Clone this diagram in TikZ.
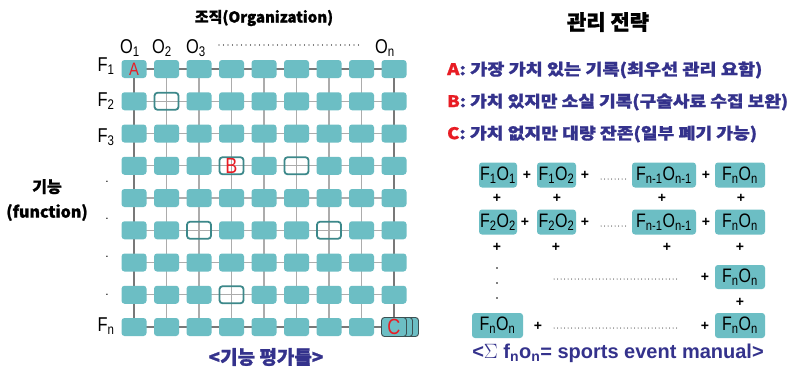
\documentclass[tikz,border=0pt]{standalone}
\usepackage{fontspec}
\setmainfont{Liberation Sans}
\newfontfamily\narrow[FakeStretch=0.82]{Liberation Sans}
\newfontfamily\kr{Noto Sans CJK KR}
\definecolor{tealbox}{RGB}{108,190,196}
\definecolor{tealline}{RGB}{60,136,138}
\definecolor{navy}{RGB}{52,50,140}
\definecolor{redA}{RGB}{232,28,36}
\definecolor{gridlt}{RGB}{172,172,172}
\definecolor{griddk}{RGB}{120,120,120}
\definecolor{cedge}{RGB}{60,80,82}
\expandafter\def\csname skip@2-2\endcsname{}
\expandafter\def\csname skip@4-4\endcsname{}
\expandafter\def\csname skip@6-4\endcsname{}
\expandafter\def\csname skip@3-6\endcsname{}
\expandafter\def\csname skip@7-6\endcsname{}
\expandafter\def\csname skip@4-8\endcsname{}
\expandafter\def\csname skip@9-9\endcsname{}
\tikzset{
  cell/.style={fill=tealbox, rounded corners=3pt, minimum width=25pt, minimum height=18pt, inner sep=0pt},
  hollow/.style={draw=tealline, line width=1.8pt, rounded corners=3pt, minimum width=24pt, minimum height=17pt, inner sep=0pt},
  cstack/.style={fill=tealbox, draw=cedge, line width=0.9pt, rounded corners=3pt, minimum width=25pt, minimum height=19pt, inner sep=0pt},
  fobox/.style={fill=tealbox, rounded corners=3pt, minimum height=25pt, inner sep=0pt, font=\narrow\fontsize{19.5}{19.5}\selectfont},
  lbl/.style={font=\narrow\fontsize{20}{20}\selectfont, inner sep=0pt},
  plus/.style={font=\bfseries\fontsize{14}{14}\selectfont, inner sep=0pt},
  dotline/.style={line width=1.2pt, line cap=round, dash pattern=on 0pt off 4.5pt},
  gl/.style={gridlt, line width=1.2pt},
  gd/.style={griddk, line width=1.9pt},
  ttl/.style={font=\kr\bfseries\addfontfeature{FakeBold=1.2}\fontsize{15}{15}\selectfont, inner sep=0pt},
  strat/.style={font=\kr\bfseries\addfontfeature{FakeBold=1.2}\fontsize{16}{16}\selectfont, text=navy, anchor=west, inner sep=0pt},
}
\begin{document}
\begin{tikzpicture}[x=1pt,y=-1pt]
\useasboundingbox[fill=white] (0,0) rectangle (793,372);
% grid coordinates
\foreach \i in {1,...,9}{\foreach \j in {1,...,9}{
  \coordinate (p-\i-\j) at ({134+32.5*(\i-1)},{69+32.25*(\j-1)});
}}
% grid lines
\foreach \j in {2,...,8}{\draw[gl] (p-1-\j) -- (p-9-\j);}
\foreach \i in {2,...,8}{\draw[gl] (p-\i-1) -- (p-\i-9);}
\draw[gd] (p-1-1) -- (p-9-1);
\draw[gd] (p-1-9) -- (p-9-9);
\draw[gd] (p-1-1) -- (p-1-9);
\draw[gd] (p-9-1) -- (p-9-9);
% cells
\foreach \i in {1,...,9}{\foreach \j in {1,...,9}{
  \ifcsname skip@\i-\j\endcsname\else
  \node[cell] (c-\i-\j) at (p-\i-\j) {};
  \fi
}}
\node[lbl, text=redA, font=\narrow\fontsize{18}{18}\selectfont] (ta) at (p-1-1) {A};
\node[hollow] (c-2-2) at (p-2-2) {};
\node[hollow, text=redA, font=\narrow\fontsize{22}{22}\selectfont] (c-4-4) at (p-4-4) {B};
\node[hollow] (c-6-4) at (p-6-4) {};
\node[hollow] (c-3-6) at (p-3-6) {};
\node[hollow] (c-7-6) at (p-7-6) {};
\node[hollow] (c-4-8) at (p-4-8) {};
\node[cstack, xshift=12pt] (cs2) at (p-9-9) {};
\node[cstack, xshift=6pt] (cs1) at (p-9-9) {};
\node[cstack, text=redA, font=\narrow\fontsize{22}{22}\selectfont] (c-9-9) at (p-9-9) {C};
% column / row labels
\node[lbl] (o1) at (130,48) {O\textsubscript{1}};
\node[lbl] (o2) at (162,48) {O\textsubscript{2}};
\node[lbl] (o3) at (196,48) {O\textsubscript{3}};
\node[lbl] (on) at (385,48) {O\textsubscript{n}};
\coordinate (od1) at (219,45);
\coordinate (od2) at (361,45);
\draw[dotline] (od1) -- (od2);
\node[lbl] (f1) at (106,66) {F\textsubscript{1}};
\node[lbl] (f2) at (106,101) {F\textsubscript{2}};
\node[lbl] (f3) at (106,137) {F\textsubscript{3}};
\node[lbl] (fn) at (106,326) {F\textsubscript{n}};
\foreach \y [count=\k] in {182,219,257,295}{\node[lbl, font=\fontsize{12}{12}\selectfont] (fd\k) at (107,\y) {.};}
% titles
\node[ttl] (t1) at (264,18) {조직(Organization)};
\node[ttl, font=\kr\bfseries\addfontfeature{FakeBold=1.2}\fontsize{16}{25}\selectfont, align=center] (t2) at (47,200) {기능\\(function)};
\node[ttl, text=navy, font=\kr\bfseries\addfontfeature{FakeBold=1.2}\fontsize{19}{19}\selectfont] (t3) at (266,357) {<기능 평가틀>};
\node[ttl, font=\kr\bfseries\addfontfeature{FakeBold=1.2}\fontsize{21}{21}\selectfont] (t4) at (608,22) {관리 전략};
% strategy lines
\node[strat] (sa) at (447,70) {\scalebox{1.16}[1]{\textcolor{redA}{A}: 가장 가치 있는 기록(최우선 관리 요함)}};
\node[strat] (sb) at (447,102) {\scalebox{1.13}[1]{\textcolor{redA}{B}: 가치 있지만 소실 기록(구술사료 수집 보완)}};
\node[strat] (sc) at (447,134) {\scalebox{1.14}[1]{\textcolor{redA}{C}: 가치 없지만 대량 잔존(일부 폐기 가능)}};
% formula
\node[fobox, minimum width=38pt] (r11) at (498,175) {F\textsubscript{1}O\textsubscript{1}};
\node[fobox, minimum width=39pt] (r12) at (556.5,175) {F\textsubscript{1}O\textsubscript{2}};
\node[fobox, minimum width=64pt] (r13) at (664,175) {F\textsubscript{n-1}O\textsubscript{n-1}};
\node[fobox, minimum width=50pt] (r14) at (740,175) {F\textsubscript{n}O\textsubscript{n}};
\node[plus] (p11) at (527,175) {+};
\node[plus] (p12) at (585,175) {+};
\node[plus] (p13) at (706,175) {+};
\coordinate (d1a) at (601,179); \coordinate (d1b) at (628,179);
\draw[dotline, line width=1pt, dash pattern=on 0pt off 3.5pt] (d1a) -- (d1b);
\node[plus] (v11) at (497,198) {+};
\node[plus] (v12) at (557,198) {+};
\node[plus] (v13) at (662,198) {+};
\node[plus] (v14) at (741,198) {+};
\node[fobox, minimum width=38pt] (r21) at (498,222) {F\textsubscript{2}O\textsubscript{2}};
\node[fobox, minimum width=39pt] (r22) at (556.5,222) {F\textsubscript{2}O\textsubscript{2}};
\node[fobox, minimum width=64pt] (r23) at (664,222) {F\textsubscript{n-1}O\textsubscript{n-1}};
\node[fobox, minimum width=50pt] (r24) at (740,222) {F\textsubscript{n}O\textsubscript{n}};
\node[plus] (p21) at (525,222) {+};
\node[plus] (p22) at (585,222) {+};
\node[plus] (p23) at (706,222) {+};
\coordinate (d2a) at (601,226); \coordinate (d2b) at (628,226);
\draw[dotline, line width=1pt, dash pattern=on 0pt off 3.5pt] (d2a) -- (d2b);
\node[plus] (v21) at (497,247) {+};
\node[plus] (v22) at (556,247) {+};
\node[plus] (v23) at (667,247) {+};
\node[plus] (v24) at (740,247) {+};
\foreach \y [count=\k] in {268,283,298}{\fill (497,\y) circle (0.8pt);}
\coordinate (d3a) at (554,279); \coordinate (d3b) at (680,279);
\draw[dotline, line width=1pt, dash pattern=on 0pt off 3.5pt] (d3a) -- (d3b);
\node[plus] (p33) at (705,277) {+};
\node[fobox, minimum width=50pt, minimum height=24pt] (r34) at (740,277) {F\textsubscript{n}O\textsubscript{n}};
\node[plus] (v34) at (740,302) {+};
\node[fobox, minimum width=51pt] (r41) at (497.5,325.5) {F\textsubscript{n}O\textsubscript{n}};
\node[plus] (p41) at (538,326) {+};
\coordinate (d4a) at (554,328); \coordinate (d4b) at (680,328);
\draw[dotline, line width=1pt, dash pattern=on 0pt off 3.5pt] (d4a) -- (d4b);
\node[plus] (p43) at (705,326) {+};
\node[fobox, minimum width=50pt] (r44) at (740,325.5) {F\textsubscript{n}O\textsubscript{n}};
\node[font=\bfseries\fontsize{20}{20}\selectfont, text=navy, inner sep=0pt] (cap) at (618,353) {<$\Sigma$ f\textsubscript{n}o\textsubscript{n}= sports event manual>};
\end{tikzpicture}
\end{document}
